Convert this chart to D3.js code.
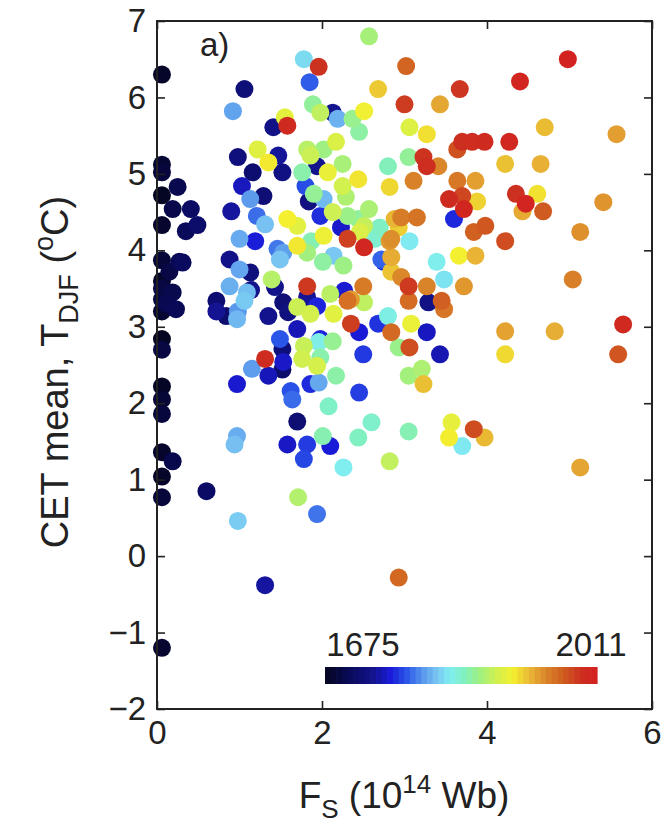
<!DOCTYPE html>
<html><head><meta charset="utf-8">
<script src="https://cdn.jsdelivr.net/npm/d3@7"></script>
<style>body{margin:0;background:#fff}svg{display:block}</style>
</head><body>
<svg id="chart" width="661" height="825"></svg>
<script>
// ---------- data ----------
const fsValues = [
0.06,0.06,0.06,0.25,0.06,0.19,0.41,0.06,0.35,0.49,0.06,0.27,0.31,0.15,0.06,0.19,0.06,0.23,0.06,0.06,0.06,0.06,0.06,0.06,0.06,0.19,0.06,0.60,0.06,0.06,0.06,0.12,
1.06,0.92,1.78,1.96,1.85,2.57,2.68,1.41,1.58,1.55,1.89,1.98,2.13,2.19,2.37,2.51,2.45,0.98,1.22,1.35,1.47,1.52,1.16,1.82,1.86,2.17,2.02,1.94,1.76,2.07,2.25,2.25,2.44,
1.03,1.13,1.29,0.90,1.21,1.31,1.00,1.19,0.88,1.46,1.58,1.70,1.80,1.90,1.84,2.02,1.98,2.13,2.23,2.31,2.44,2.57,2.51,2.31,2.51,2.02,1.70,1.53,1.82,2.14,2.84,2.88,2.70,2.84,2.72,
3.02,3.67,4.40,4.98,3.00,3.43,3.06,3.27,4.70,5.57,3.70,3.64,3.82,3.97,4.27,3.05,3.23,3.27,3.41,2.80,4.22,4.65,3.11,3.64,3.86,2.82,3.54,3.70,3.88,3.72,3.60,4.35,4.47,4.61,4.43,4.68,5.41,
2.96,3.15,2.93,3.98,3.84,4.22,5.13,2.82,3.06,3.39,3.66,3.86,2.84,2.96,3.48,2.50,2.35,2.51,3.05,3.05,3.27,3.29,3.45,3.48,3.72,2.80,2.35,2.45,2.68,2.84,3.08,3.27,5.04,4.22,4.82,5.65,5.59,4.22,
2.50,2.93,3.06,3.43,3.05,3.21,3.23,2.45,2.60,2.44,3.05,3.57,3.54,3.70,3.84,3.97,2.82,5.13,
1.00,1.13,0.88,1.09,0.72,0.72,0.84,0.98,1.06,0.97,1.35,1.53,1.59,1.43,1.39,1.49,1.70,1.86,1.82,1.82,1.94,2.10,2.27,2.31,2.14,2.01,2.26,2.75,
1.70,1.49,1.52,1.53,1.31,1.35,1.15,0.97,1.78,1.98,2.13,1.76,1.94,2.17,1.86,1.62,1.64,2.08,1.70,0.97,0.94,1.58,1.82,2.01,2.10,1.78,2.26,1.71,0.98,1.94,2.93,1.31,
1.14,2.29,2.46,2.64,1.87,1.96,1.98,1.96,1.52];
const tdjfValues = [
6.30,5.12,5.02,4.83,4.72,4.54,4.54,4.33,4.25,4.33,3.87,3.85,3.84,3.72,3.60,3.45,3.36,3.23,3.20,2.84,2.70,2.22,2.05,1.86,1.36,1.24,1.04,0.85,0.77,-1.20,3.50,3.30,
6.11,5.82,6.50,6.40,6.20,6.80,6.11,5.61,5.63,5.74,5.91,5.80,5.80,5.72,5.72,5.82,5.55,5.22,5.32,5.15,5.24,5.02,5.02,5.32,5.24,5.42,5.32,5.10,5.02,5.02,5.13,4.84,4.93,
4.84,4.67,4.71,4.51,4.45,4.34,4.15,4.12,3.88,4.02,4.41,4.32,4.84,4.74,4.64,4.67,4.45,4.50,4.30,4.45,4.41,4.54,4.32,4.15,4.04,4.19,4.06,3.97,3.97,3.93,4.15,4.41,4.30,3.91,3.88,
6.41,6.11,6.21,6.50,5.91,5.91,5.61,5.52,5.61,5.52,5.42,5.32,5.42,5.42,5.42,5.22,5.22,5.10,5.10,5.10,5.13,5.13,4.91,4.91,4.91,4.83,4.67,4.71,4.64,4.54,4.41,4.74,4.61,4.74,4.51,4.51,4.63,
4.43,4.43,4.30,4.32,4.24,4.12,4.24,4.12,4.12,3.85,3.93,3.93,3.72,3.65,3.62,3.53,3.36,3.32,3.53,3.34,3.53,3.32,3.34,3.23,3.53,3.14,3.04,2.93,3.04,2.93,3.04,2.93,3.62,2.94,2.94,3.03,2.64,2.64,
2.64,2.73,2.73,2.64,2.36,2.45,2.25,2.14,1.75,1.55,1.63,1.75,1.55,1.44,1.66,1.55,1.24,1.16,
3.75,3.71,3.53,3.45,3.34,3.20,3.14,3.20,3.34,3.10,3.14,3.32,3.19,3.52,3.62,3.88,3.26,3.17,3.53,3.39,3.27,3.43,3.47,3.34,3.17,3.85,3.80,3.85,
2.97,2.84,2.71,2.54,2.58,2.36,2.45,2.25,2.75,2.84,2.81,2.58,2.49,2.36,2.25,2.16,2.05,1.96,1.76,1.57,1.46,1.46,1.46,1.57,1.44,1.27,1.16,0.77,0.46,0.55,-0.28,-0.38,
3.48,4.70,4.24,4.15,4.12,2.80,2.60,2.27,2.44];
const yearValues = [
1680,1686,1690,1700,1677,1697,1710,1683,1706,1714,1688,1702,1708,1695,1679,1699,1692,1704,1685,1676,1693,1678,1687,1691,1682,1698,1681,1712,1689,1684,1694,1701,
1722,1800,1822,1990,1778,1869,1921,1730,1998,1898,1858,1880,1735,1806,1862,1905,1855,1725,1895,1909,1738,1728,1717,1877,1884,1893,1866,1733,1853,1901,1870,1888,1911,
1748,1797,1720,1739,1783,1812,1803,1757,1731,1786,1907,1896,1773,1860,1727,1809,1762,1886,1752,1864,1857,1871,1882,1983,2001,1903,1910,1799,1867,1814,1945,1928,1845,1932,1780,
1965,1988,2003,2007,1985,1934,1894,1913,1926,1938,1992,1975,1995,1999,2002,1859,1989,1993,1948,1848,1924,1930,1950,1955,1937,1916,1997,1980,1918,2004,1760,1991,2006,1912,1933,1970,1942,
1952,1957,1919,1972,1967,1977,1944,1940,1828,1831,1906,1929,1923,1947,1825,1953,1939,1879,1986,1961,1949,1729,1968,1956,1941,1834,1984,1755,1764,1962,1902,1749,1951,1936,1931,2000,1973,1915,
1766,1863,1976,1745,1868,1872,1925,1768,1842,1846,1850,1899,1908,1827,1978,1927,1881,1935,
1801,1724,1805,1810,1718,1736,1716,1796,1815,1808,1734,1721,1726,1732,1876,1813,1885,1889,1987,1737,1759,1878,1754,1959,1897,1856,1865,1763,
1746,1776,1723,1751,1996,1747,1798,1753,1883,1758,1861,1887,1890,1854,1761,1774,1782,1844,1719,1804,1811,1750,1767,1851,1756,1771,1830,1874,1816,1785,1963,1740,
1733,1873,1892,1841,1850,1833,1852,1802,1715];
const xTickValues = [0, 2, 4, 6];
const yTickValues = [-2, -1, 0, 1, 2, 3, 4, 5, 6, 7];
const yearRange = [1675, 2011];
const xDomain = [0, 6];
const yDomain = [-2, 7];

// ---------- layout ----------
const svg = d3.select("#chart");
const L = 157, R = 652, T = 21, B = 709;
const font = "'Liberation Sans', Arial, Helvetica, sans-serif";
const x = d3.scaleLinear().domain(xDomain).range([L, R]);
const y = d3.scaleLinear().domain(yDomain).range([B, T]);

const stops = [
 [0.00,"#050520"],[0.10,"#0a0a60"],[0.18,"#141490"],[0.24,"#1a1ad8"],[0.30,"#2a55e8"],
 [0.36,"#5a98ec"],[0.41,"#78c4f2"],[0.46,"#80eef0"],[0.51,"#80f0c0"],[0.57,"#a0f080"],
 [0.63,"#d0f050"],[0.69,"#f4f030"],[0.76,"#e8b035"],[0.82,"#d88028"],[0.88,"#d05a20"],
 [0.94,"#cc3020"],[1.00,"#d42020"]];
const tScale = d3.scaleLinear().domain(yearRange).range([0,1]).clamp(true);
const cmap = d3.scaleLinear().domain(stops.map(s=>s[0])).range(stops.map(s=>s[1])).interpolate(d3.interpolateRgb);
const color = yr => cmap(tScale(yr));

const pts = fsValues.map((v,i)=>({fs:v, t:tdjfValues[i], yr:yearValues[i]}))
  .sort((a,b)=>a.yr-b.yr);

// points
svg.append("g").selectAll("circle").data(pts).join("circle")
  .attr("cx", d=>x(d.fs)).attr("cy", d=>y(d.t)).attr("r", 9)
  .attr("fill", d=>color(d.yr));

// colorbar
const cb = d3.scaleLinear().domain(yearRange).range([325, 597]);
const nSeg = 48;
const segYears = d3.range(nSeg).map(i => yearRange[0] + (yearRange[1]-yearRange[0]) * i / nSeg);
const segW = (yearRange[1]-yearRange[0]) / nSeg;
svg.append("g").selectAll("rect").data(segYears).join("rect")
  .attr("x", d=>cb(d)).attr("width", d=>cb(d+segW)-cb(d)+0.6)
  .attr("y", 667).attr("height", 17)
  .attr("fill", d=>color(d + segW/2));
svg.append("text").attr("x", cb(yearRange[0])+38).attr("y", 656).attr("text-anchor","middle")
  .attr("font-family", font).attr("font-size", 33).attr("fill","#222").text(String(yearRange[0]));
svg.append("text").attr("x", cb(yearRange[1])-6).attr("y", 656).attr("text-anchor","middle")
  .attr("font-family", font).attr("font-size", 33).attr("fill","#222").text(String(yearRange[1]));

// axes
const styleAxis = g => {
  g.select(".domain").remove();
  g.selectAll(".tick line").attr("stroke","#222").attr("stroke-width",1.6);
  g.selectAll(".tick text").attr("font-family", font).attr("font-size", 33).attr("fill","#222");
};
svg.append("g").attr("transform",`translate(0,${B})`)
  .call(d3.axisBottom(x).tickValues(xTickValues).tickSize(-8).tickPadding(12).tickFormat(d3.format("d")))
  .call(styleAxis);
svg.append("g").attr("transform",`translate(0,${T})`)
  .call(d3.axisTop(x).tickValues(xTickValues).tickSize(-8).tickFormat(""))
  .call(styleAxis);
svg.append("g").attr("transform",`translate(${L},0)`)
  .call(d3.axisLeft(y).tickValues(yTickValues).tickSize(-8).tickPadding(11).tickFormat(d3.format("d")))
  .call(styleAxis);
svg.append("g").attr("transform",`translate(${R},0)`)
  .call(d3.axisRight(y).tickValues(yTickValues).tickSize(-8).tickFormat(""))
  .call(styleAxis);

svg.append("rect").attr("x",L).attr("y",T).attr("width",R-L).attr("height",B-T)
  .attr("fill","none").attr("stroke","#222").attr("stroke-width",2);

// panel label
svg.append("text").attr("x",200).attr("y",56).attr("font-family",font).attr("font-size",33)
  .attr("fill","#222").text("a)");

// x title
const xt = svg.append("text").attr("x",404).attr("y",808).attr("text-anchor","middle")
  .attr("font-family",font).attr("font-size",37).attr("fill","#222");
xt.append("tspan").text("F");
xt.append("tspan").attr("font-size",26).attr("dy",10).text("S");
xt.append("tspan").attr("dy",-10).text(" (10");
xt.append("tspan").attr("font-size",26).attr("dy",-15).text("14");
xt.append("tspan").attr("dy",15).text(" Wb)");

// y title
const yt = svg.append("text").attr("transform","translate(68,372) rotate(-90)").attr("text-anchor","middle")
  .attr("font-family",font).attr("font-size",38).attr("fill","#222");
yt.append("tspan").text("CET mean, T");
yt.append("tspan").attr("font-size",27).attr("dy",10).text("DJF");
yt.append("tspan").attr("dy",-10).text(" (");
yt.append("tspan").attr("font-size",27).attr("dy",-15).text("o");
yt.append("tspan").attr("dy",15).text("C)");
</script>
</body></html>
